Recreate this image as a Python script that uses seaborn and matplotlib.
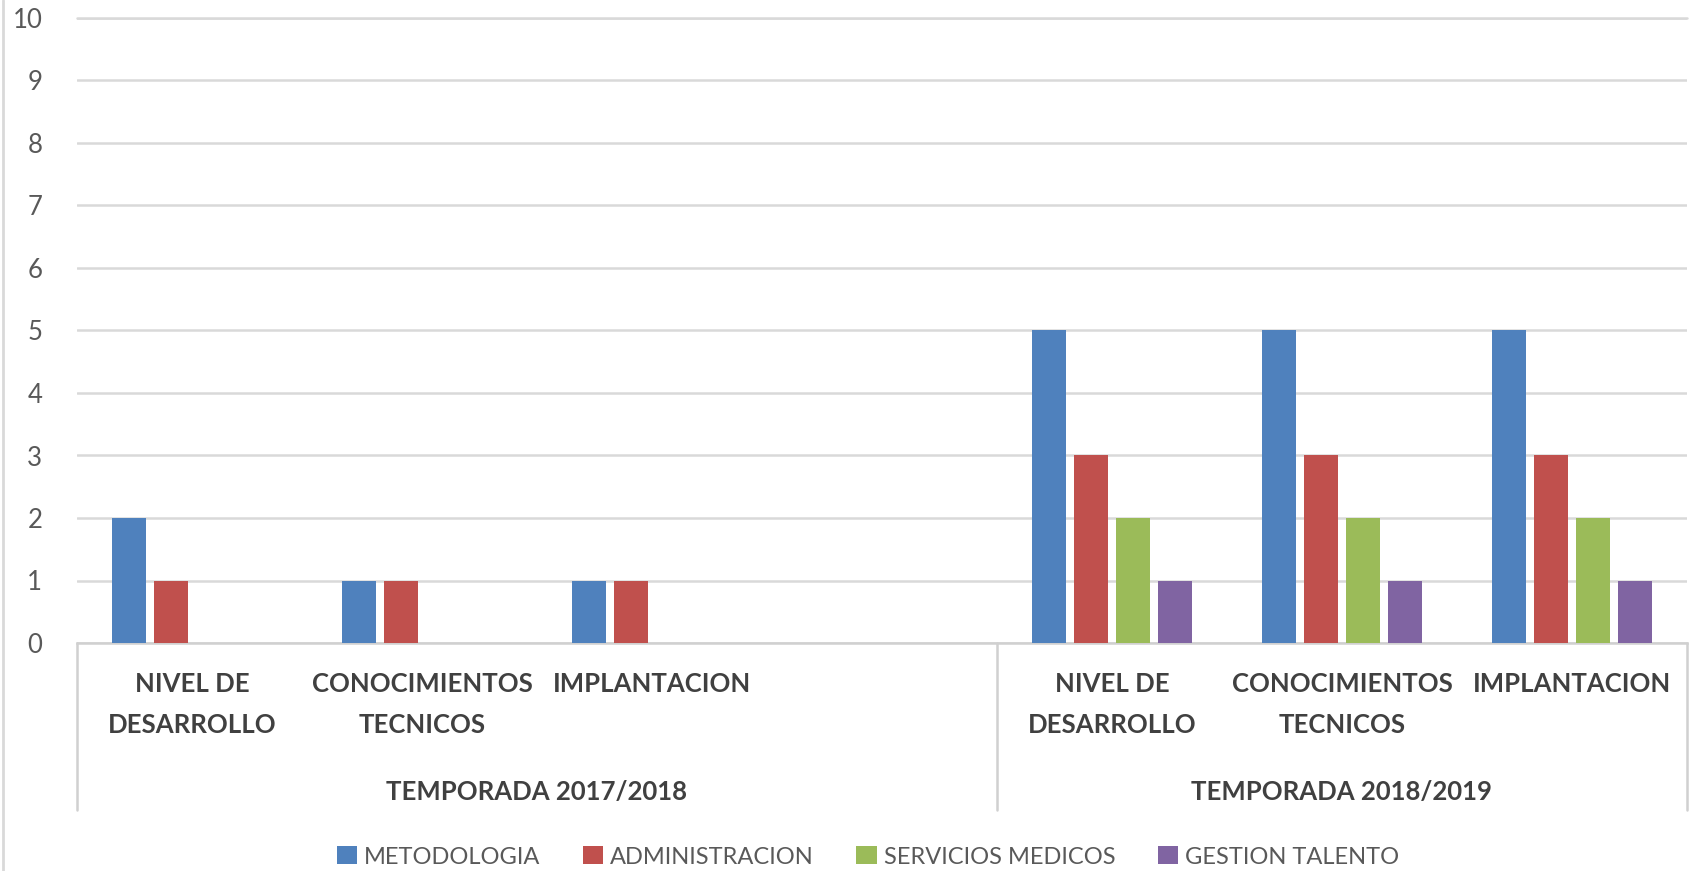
import pandas as pd
import numpy as np
import matplotlib.pyplot as plt
import seaborn as sns
from matplotlib.patches import Patch
from matplotlib.transforms import blended_transform_factory

# Data
temporadas = ["TEMPORADA 2017/2018", "TEMPORADA 2018/2019"]
indicadores = ["NIVEL DE\nDESARROLLO", "CONOCIMIENTOS\nTECNICOS", "IMPLANTACION"]
series = ["METODOLOGIA", "ADMINISTRACION", "SERVICIOS MEDICOS", "GESTION TALENTO"]
colors = ["#4F81BD", "#C0504D", "#9BBB59", "#8064A2"]

# values per indicator, one list per series
t1718_metodologia = [2, 1, 1]
t1718_administracion = [1, 1, 1]
t1718_servicios = [0, 0, 0]
t1718_gestion = [0, 0, 0]
t1819_metodologia = [5, 5, 5]
t1819_administracion = [3, 3, 3]
t1819_servicios = [2, 2, 2]
t1819_gestion = [1, 1, 1]

values = {
    temporadas[0]: [t1718_metodologia, t1718_administracion, t1718_servicios, t1718_gestion],
    temporadas[1]: [t1819_metodologia, t1819_administracion, t1819_servicios, t1819_gestion],
}

rows = []
for temp in temporadas:
    for s, vals in zip(series, values[temp]):
        for ind, v in zip(indicadores, vals):
            rows.append({"pos": temp + "|" + ind, "serie": s, "valor": v})
df = pd.DataFrame(rows)

# category order: left season has an empty fourth slot
order = [temporadas[0] + "|" + i for i in indicadores] + ["vacio"] + \
        [temporadas[1] + "|" + i for i in indicadores]

sns.set_style("white")
plt.rcParams['font.family'] = ['Lato', 'DejaVu Sans']

W, H = 1690, 871
fig = plt.figure(figsize=(W / 100, H / 100), dpi=100)
ax = fig.add_axes([77 / W, (H - 643) / H, 1610 / W, 625 / H])

sns.barplot(data=df, x="pos", y="valor", hue="serie", order=order,
            hue_order=series, palette=colors, saturation=1, width=0.73, gap=0.21,
            errorbar=None, linewidth=0, legend=False, ax=ax, zorder=3)

ax.set_ylim(0, 10)
ax.set_xlim(-0.5, 6.5)
ax.set_yticks(range(0, 11))
ax.yaxis.grid(True, color="#d9d9d9", linewidth=1.8, zorder=0)
ax.axhline(10, color="#d9d9d9", linewidth=1.8, clip_on=False, zorder=0)
ax.set_axisbelow(True)
ax.tick_params(axis="y", length=0, pad=25, labelsize=18.5, labelcolor="#595959")
ax.set_xticks([])
ax.set_xlabel("")
ax.set_ylabel("")
for side in ["top", "right", "left"]:
    ax.spines[side].set_visible(False)
ax.spines["bottom"].set_color("#d0d0d0")
ax.spines["bottom"].set_linewidth(1.8)

trans = blended_transform_factory(ax.transData, ax.transAxes)
line1_y = -(684 - 643) / 625
line2_y = -(725 - 643) / 625
group_y = -(792 - 643) / 625
sep_bottom = -(810 - 643) / 625

for i, key in enumerate(order):
    if key == "vacio":
        continue
    lines = key.split("|")[1].split("\n")
    for j, txt in enumerate(lines):
        ax.text(i, line1_y if j == 0 else line2_y, txt, transform=trans,
                ha="center", va="center", fontsize=18.5, fontweight="bold",
                color="#404040")

ax.text(1.5, group_y, temporadas[0], transform=trans, ha="center", va="center",
        fontsize=18.5, fontweight="bold", color="#404040")
ax.text(5.0, group_y, temporadas[1], transform=trans, ha="center", va="center",
        fontsize=18.5, fontweight="bold", color="#404040")

for xs in [-0.5, 3.5, 6.5]:
    ax.plot([xs, xs], [0, sep_bottom], transform=trans, color="#d0d0d0",
            linewidth=1.8, clip_on=False)

# chart border at the left edge
fig.add_artist(plt.Line2D([3 / W, 3 / W], [0, 1], color="#d9d9d9", linewidth=2))

handles = [Patch(facecolor=c, edgecolor="none", label=s) for s, c in zip(series, colors)]
fig.legend(handles=handles, loc="center", bbox_to_anchor=(868 / W, 1 - 857 / H),
           ncol=4, frameon=False, fontsize=17, handlelength=0.85, handleheight=0.8,
           handletextpad=0.3, columnspacing=1.8, labelcolor="#595959",
           borderpad=0, borderaxespad=0)

fig.savefig("out.png", dpi=100)
